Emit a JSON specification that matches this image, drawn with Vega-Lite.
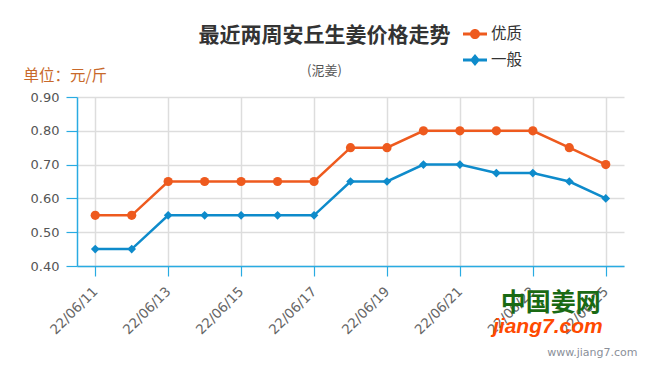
{
  "$schema": "https://vega.github.io/schema/vega-lite/v6.json",
  "width": 547,
  "height": 169,
  "autosize": {"type": "none"},
  "padding": {"left": 77, "top": 97, "right": 24, "bottom": 113},
  "background": "white",
  "config": {
    "font": "Noto Sans CJK SC",
    "view": {"stroke": null}
  },
  "title": {
    "text": "最近两周安丘生姜价格走势",
    "subtitle": "(泥姜)",
    "anchor": "middle",
    "frame": "group",
    "dx": -26,
    "dy": 45,
    "offset": -11,
    "fontSize": 21,
    "fontWeight": "bold",
    "color": "#333333",
    "subtitleFontSize": 13,
    "subtitleColor": "#555555",
    "subtitlePadding": 19
  },
  "data": {
    "values": [
      {"date": "22/06/11", "grade": "优质", "price": 0.55},
      {"date": "22/06/12", "grade": "优质", "price": 0.55},
      {"date": "22/06/13", "grade": "优质", "price": 0.65},
      {"date": "22/06/14", "grade": "优质", "price": 0.65},
      {"date": "22/06/15", "grade": "优质", "price": 0.65},
      {"date": "22/06/16", "grade": "优质", "price": 0.65},
      {"date": "22/06/17", "grade": "优质", "price": 0.65},
      {"date": "22/06/18", "grade": "优质", "price": 0.75},
      {"date": "22/06/19", "grade": "优质", "price": 0.75},
      {"date": "22/06/20", "grade": "优质", "price": 0.80},
      {"date": "22/06/21", "grade": "优质", "price": 0.80},
      {"date": "22/06/22", "grade": "优质", "price": 0.80},
      {"date": "22/06/23", "grade": "优质", "price": 0.80},
      {"date": "22/06/24", "grade": "优质", "price": 0.75},
      {"date": "22/06/25", "grade": "优质", "price": 0.70},
      {"date": "22/06/11", "grade": "一般", "price": 0.45},
      {"date": "22/06/12", "grade": "一般", "price": 0.45},
      {"date": "22/06/13", "grade": "一般", "price": 0.55},
      {"date": "22/06/14", "grade": "一般", "price": 0.55},
      {"date": "22/06/15", "grade": "一般", "price": 0.55},
      {"date": "22/06/16", "grade": "一般", "price": 0.55},
      {"date": "22/06/17", "grade": "一般", "price": 0.55},
      {"date": "22/06/18", "grade": "一般", "price": 0.65},
      {"date": "22/06/19", "grade": "一般", "price": 0.65},
      {"date": "22/06/20", "grade": "一般", "price": 0.70},
      {"date": "22/06/21", "grade": "一般", "price": 0.70},
      {"date": "22/06/22", "grade": "一般", "price": 0.675},
      {"date": "22/06/23", "grade": "一般", "price": 0.675},
      {"date": "22/06/24", "grade": "一般", "price": 0.65},
      {"date": "22/06/25", "grade": "一般", "price": 0.60}
    ]
  },
  "encoding": {
    "x": {
      "field": "date",
      "type": "ordinal",
      "scale": {"type": "point", "padding": 0.5},
      "axis": {
        "values": ["22/06/11", "22/06/13", "22/06/15", "22/06/17", "22/06/19", "22/06/21", "22/06/23", "22/06/25"],
        "title": "www.jiang7.com",
        "titleAnchor": "end",
        "titleAlign": "right",
        "titleBaseline": "middle",
        "titleX": 560,
        "titleY": 86,
        "titleFont": "DejaVu Sans",
        "titleFontSize": 11,
        "titleFontWeight": "normal",
        "titleColor": "#8A8F99",
        "labelAngle": -45,
        "labelAlign": "right",
        "labelBaseline": "middle",
        "labelFont": "DejaVu Sans",
        "labelFontSize": 13.5,
        "labelColor": "#666666",
        "labelPadding": 13,
        "labelDx": 0,
        "domainColor": "#29ABE2",
        "domainWidth": 1.5,
        "tickColor": "#29ABE2",
        "tickSize": 10,
        "tickWidth": 1.2,
        "grid": true,
        "gridColor": "#DDDDDD",
        "gridWidth": 1.5
      }
    },
    "y": {
      "field": "price",
      "type": "quantitative",
      "scale": {"domain": [0.4, 0.9], "nice": false, "zero": false},
      "axis": {
        "values": [0.4, 0.5, 0.6, 0.7, 0.8, 0.9],
        "format": ".2f",
        "title": "单位：元/斤",
        "titleAngle": 0,
        "titleAlign": "left",
        "titleBaseline": "middle",
        "titleX": -54,
        "titleY": -22,
        "titleFontSize": 15.5,
        "titleFontWeight": "normal",
        "titleColor": "#C8692A",
        "labelFont": "DejaVu Sans",
        "labelFontSize": 13,
        "labelColor": "#555555",
        "labelPadding": 7,
        "domainColor": "#29ABE2",
        "domainWidth": 1.5,
        "tickColor": "#29ABE2",
        "tickSize": 11,
        "tickWidth": 1.2,
        "grid": true,
        "gridColor": "#DDDDDD",
        "gridWidth": 1.5
      }
    }
  },
  "layer": [
    {
      "mark": {"type": "line", "strokeWidth": 2.5},
      "encoding": {
        "color": {
          "field": "grade",
          "type": "nominal",
          "scale": {"domain": ["优质", "一般"], "range": ["#EE5A1E", "#0E8BCB"]},
          "legend": {
            "title": null,
            "orient": "none",
            "legendX": 386,
            "legendY": -75,
            "labelFontSize": 15.5,
            "labelColor": "#333333",
            "symbolSize": 576,
            "rowPadding": 5,
            "labelOffset": 4
          }
        }
      }
    },
    {
      "mark": {"type": "point", "filled": true, "opacity": 1, "size": 1},
      "encoding": {
        "color": {
          "field": "grade",
          "type": "nominal",
          "scale": {"domain": ["优质", "一般"], "range": ["#EE5A1E", "#0E8BCB"]},
          "legend": {
            "title": null,
            "orient": "none",
            "legendX": 386,
            "legendY": -75,
            "labelFontSize": 15.5,
            "labelColor": "#333333",
            "symbolSize": 576,
            "symbolStrokeWidth": 0,
            "rowPadding": 5,
            "labelOffset": 4
          }
        },
        "shape": {
          "field": "grade",
          "type": "nominal",
          "scale": {
            "domain": ["优质", "一般"],
            "range": [
              "M-1,-0.125H1V0.125H-1Z M-0.42,0A0.42,0.42 0 1,1 0.42,0A0.42,0.42 0 1,1 -0.42,0Z",
              "M-1,-0.125H1V0.125H-1Z M0,-0.5L0.42,0L0,0.5L-0.42,0Z"
            ]
          },
          "legend": {
            "title": null,
            "orient": "none",
            "legendX": 386,
            "legendY": -75,
            "labelFontSize": 15.5,
            "labelColor": "#333333",
            "symbolSize": 576,
            "symbolStrokeWidth": 0,
            "rowPadding": 5,
            "labelOffset": 4
          }
        }
      }
    },
    {
      "transform": [{"filter": "datum.grade === '优质'"}],
      "mark": {"type": "point", "filled": true, "opacity": 1, "size": 85, "shape": "circle"},
      "encoding": {
        "color": {"field": "grade", "type": "nominal"}
      }
    },
    {
      "transform": [{"filter": "datum.grade === '一般'"}],
      "mark": {"type": "point", "filled": true, "opacity": 1, "size": 75, "shape": "diamond"},
      "encoding": {
        "color": {"field": "grade", "type": "nominal"}
      }
    },
    {
      "data": {"values": [{"date": "22/06/23", "price": 0.29, "logo": "中国姜网"}]},
      "mark": {"type": "text", "font": "Noto Sans CJK SC", "fontSize": 25, "fontWeight": "bold", "fill": "#1A6A14", "align": "center", "baseline": "middle", "dx": 18},
      "encoding": {
        "text": {"field": "logo", "type": "nominal"}
      }
    },
    {
      "data": {"values": [{"date": "22/06/23", "price": 0.22, "logo": "jiang7.com"}]},
      "mark": {"type": "text", "font": "Liberation Sans", "fontSize": 21, "fontWeight": "bold", "fontStyle": "italic", "fill": "#FF4A00", "align": "center", "baseline": "middle", "dx": 15},
      "encoding": {
        "text": {"field": "logo", "type": "nominal"}
      }
    }
  ]
}
